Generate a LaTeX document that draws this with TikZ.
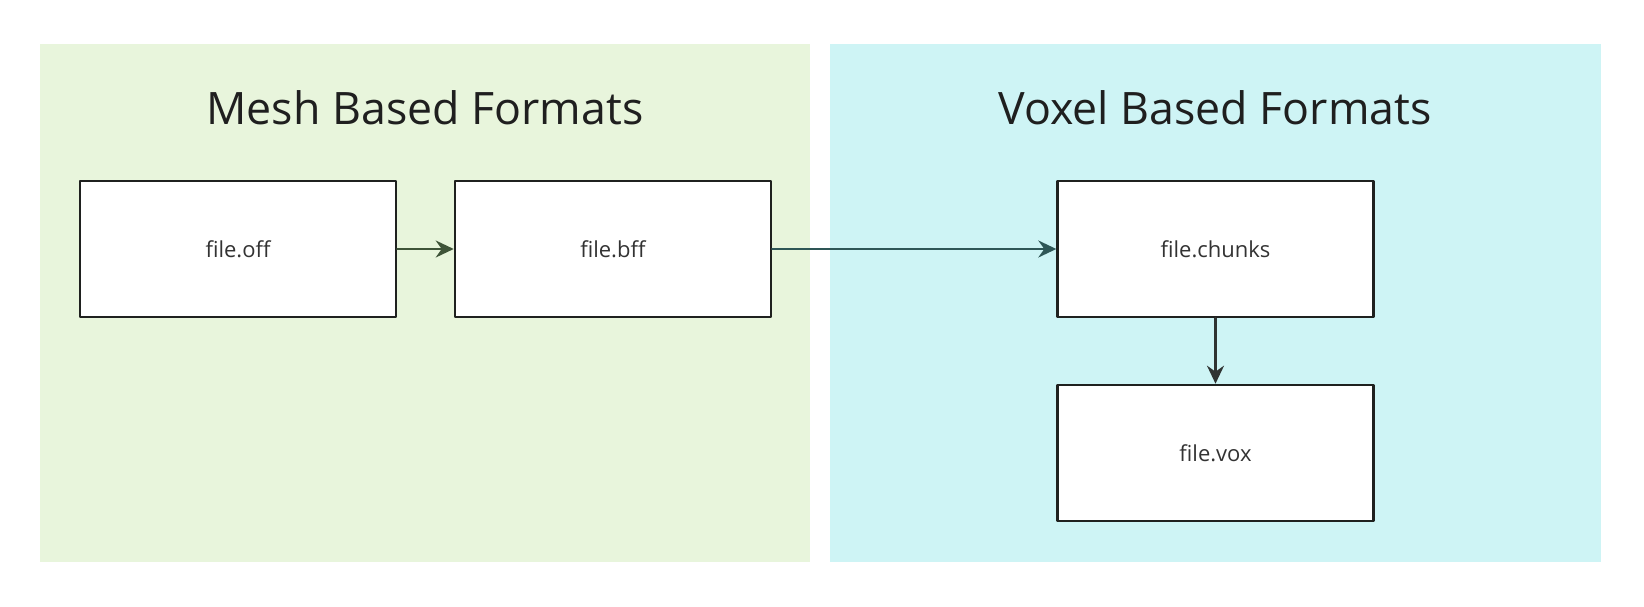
\documentclass[tikz,border=0pt]{standalone}
\usepackage{fontspec}
\setmainfont{Open Sans}
\usetikzlibrary{positioning,arrows.meta}

\definecolor{meshbg}{HTML}{E8F5DC}
\definecolor{voxelbg}{HTML}{CEF4F5}
\definecolor{boxline}{HTML}{1F211F}
\definecolor{arrowgreen}{HTML}{3E5438}
\definecolor{arrowteal}{HTML}{2E5656}
\definecolor{arrowgray}{HTML}{2F3332}

\tikzset{
  filebox/.style={draw=boxline, fill=white, line width=2.4pt,
    minimum width=316pt, minimum height=136pt, inner sep=0pt,
    font=\fontsize{22}{26}\selectfont, text=black!80},
  paneltitle/.style={font=\fontsize{44.7}{52}\selectfont, text=black!88},
  flow/.style={line width=2.3pt, -{Stealth[length=18pt, width=17pt, inset=6pt]}}
}

\begin{document}
\begin{tikzpicture}[x=1pt,y=-1pt, line cap=round, line join=round]
\useasboundingbox (0,0) rectangle (1644,607);
\fill[white] (0,0) rectangle (1644,607);

% panels
\fill[meshbg] (40,44) rectangle (810,562);
\fill[voxelbg] (830,44) rectangle (1601,562);

% titles
\node[paneltitle] (meshtitle) at (425,108) {Mesh Based Formats};
\node[paneltitle] (voxeltitle) at (1215,108) {Voxel Based Formats};

% file boxes
\node[filebox] (off) at (238,249) {file.off};
\node[filebox, right=56.5pt of off] (bff) {file.bff};
\node[filebox] (chunks) at (1215.5,249) {file.chunks};
\node[filebox, below=65.5pt of chunks] (vox) {file.vox};

% connectors
\draw[flow, arrowgreen] (off) -- (bff);
\draw[flow, arrowteal] (bff) -- (chunks);
\draw[flow, arrowgray] (chunks) -- (vox);
\end{tikzpicture}
\end{document}
